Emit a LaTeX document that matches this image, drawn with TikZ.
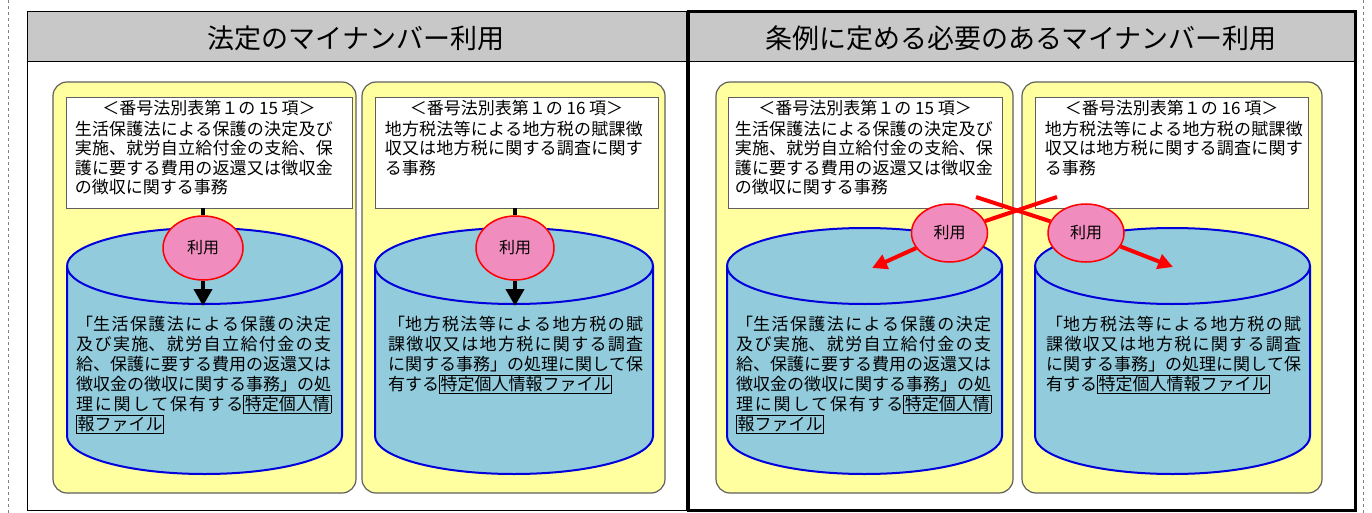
\documentclass[tikz,border=0pt]{standalone}
\usepackage{fontspec}
\setmainfont{Noto Sans CJK JP}
\usepackage{tikz}
\usetikzlibrary{shapes.geometric, arrows, arrows.meta, positioning, calc}
\XeTeXlinebreaklocale "ja"
\XeTeXlinebreakskip=0pt plus 3pt minus 0.5pt
\tolerance=9999
\definecolor{headgray}{RGB}{200,200,200}
\definecolor{padyellow}{RGB}{255,255,160}
\definecolor{padline}{RGB}{95,95,95}
\definecolor{cylblue}{RGB}{145,203,220}
\definecolor{cylline}{RGB}{0,0,220}
\definecolor{ovalpink}{RGB}{240,140,190}
\setlength{\fboxsep}{0.8pt}
\setlength{\fboxrule}{0.6pt}

\begin{document}
\begin{tikzpicture}[x=1pt, y=-1pt]
    \tikzstyle{pad} = [draw=padline, line width=1.2pt, fill=padyellow, rounded corners=14pt]
    \tikzstyle{infobox} = [rectangle, draw=padline, fill=white, line width=0.8pt, minimum height=111pt, inner sep=0pt]
    \tikzstyle{headtext} = [inner sep=0pt, font=\fontsize{17}{20}\selectfont]
    \tikzstyle{bodytext} = [anchor=north west, text width=258pt, align=justify, inner sep=0pt, font=\fontsize{17}{19.5}\selectfont]
    \tikzstyle{cyltext} = [anchor=north west, text width=255pt, align=justify, inner sep=0pt, font=\fontsize{17}{20}\selectfont]
    \tikzstyle{cyl} = [draw=cylline, line width=2pt, fill=cylblue]
    \tikzstyle{use} = [ellipse, draw=red, line width=1.5pt, fill=ovalpink, minimum width=76pt, minimum height=58pt, inner sep=0pt, font=\fontsize{16}{16}\selectfont]
    \tikzstyle{title} = [inner sep=0pt, font=\fontsize{27}{27}\selectfont]
    \tikzstyle{stem} = [line width=4pt]
    \tikzstyle{arrow} = [line width=4pt, -{Triangle[length=17pt, width=18pt]}]
    \tikzstyle{redarrow} = [red, line width=4pt, -{Triangle[length=15pt, width=15pt]}]
    \tikzstyle{cross} = [red, line width=4pt]

    \useasboundingbox (0,0) rectangle (1372,513);
    \fill[white] (0,0) rectangle (1372,513);
    \draw[gray, dashed] (8,0) -- (8,513);
    \draw[gray, dashed] (1363,0) -- (1363,513);

    % panels
    \fill[headgray] (27,12) rectangle (686,62);
    \draw[line width=1pt] (27,12) rectangle (686,510);
    \draw[line width=1pt] (27,62) -- (686,62);
    \fill[headgray] (688,12) rectangle (1355,62);
    \draw[line width=1pt] (688,62) -- (1355,62);
    \draw[line width=3pt] (688,12) rectangle (1355,510);

    \node[title] (legal) at (356,38) {法定のマイナンバー利用};
    \node[title] (local) at (1021,38) {条例に定める必要のあるマイナンバー利用};

    % yellow pads
    \draw[pad] (53,82) rectangle (356,493);
    \draw[pad] (362,82) rectangle (665,493);
    \draw[pad] (716,82) rectangle (1013,493);
    \draw[pad] (1022,82) rectangle (1322,493);

    % cylinders
    \foreach \cx/\rx in {204.5/137.5, 514/139, 864.5/137.5, 1172.5/137.5} {
        \filldraw[cyl] (\cx-\rx,266) -- (\cx-\rx,436)
            arc[start angle=180, end angle=0, x radius=\rx, y radius=38]
            -- (\cx+\rx,266)
            arc[start angle=0, end angle=-180, x radius=\rx, y radius=38] -- cycle;
        \draw[cyl, fill=none] (\cx-\rx,266) arc[start angle=180, end angle=0, x radius=\rx, y radius=38];
    }

    % table boxes
    \node[infobox, minimum width=286pt] (welfare) at (209,152.5) {};
    \node[infobox, minimum width=283pt] (tax) at (516.5,152.5) {};
    \node[infobox, minimum width=274pt] (welfare2) at (865,152.5) {};
    \node[infobox, minimum width=273pt] (tax2) at (1171.5,152.5) {};

    \node[headtext, below=3pt of welfare.north] (welfarehead) {＜番号法別表第１の 15 項＞};
    \node[headtext, below=3pt of tax.north] (taxhead) {＜番号法別表第１の 16 項＞};
    \node[headtext, below=3pt of welfare2.north] (welfarehead2) {＜番号法別表第１の 15 項＞};
    \node[headtext, below=3pt of tax2.north] (taxhead2) {＜番号法別表第１の 16 項＞};

    \node[bodytext] (welfarebody) at ($(welfare.north west)+(9,24)$) {生活保護法による保護の決定及び\linebreak 実施、就労自立給付金の支給、保\linebreak 護に要する費用の返還又は徴収金\linebreak の徴収に関する事務};
    \node[bodytext] (taxbody) at ($(tax.north west)+(10,24)$) {地方税法等による地方税の賦課徴\linebreak 収又は地方税に関する調査に関す\linebreak る事務};
    \node[bodytext] (welfarebody2) at ($(welfare2.north west)+(7,24)$) {生活保護法による保護の決定及び\linebreak 実施、就労自立給付金の支給、保\linebreak 護に要する費用の返還又は徴収金\linebreak の徴収に関する事務};
    \node[bodytext] (taxbody2) at ($(tax2.north west)+(10,24)$) {地方税法等による地方税の賦課徴\linebreak 収又は地方税に関する調査に関す\linebreak る事務};

    % file texts
    \node[cyltext] (welfarefile) at (76,316) {「生活保護法による保護の決定\linebreak 及び実施、就労自立給付金の支\linebreak 給、保護に要する費用の返還又は\linebreak 徴収金の徴収に関する事務」の処\linebreak 理に関して保有する\fbox{特定個人情}\linebreak \fbox{報ファイル}};
    \node[cyltext] (taxfile) at (388,316) {「地方税法等による地方税の賦\linebreak 課徴収又は地方税に関する調査\linebreak に関する事務」の処理に関して保\linebreak 有する\fbox{特定個人情報ファイル}};
    \node[cyltext] (welfarefile2) at (736,316) {「生活保護法による保護の決定\linebreak 及び実施、就労自立給付金の支\linebreak 給、保護に要する費用の返還又は\linebreak 徴収金の徴収に関する事務」の処\linebreak 理に関して保有する\fbox{特定個人情}\linebreak \fbox{報ファイル}};
    \node[cyltext] (taxfile2) at (1046,316) {「地方税法等による地方税の賦\linebreak 課徴収又は地方税に関する調査\linebreak に関する事務」の処理に関して保\linebreak 有する\fbox{特定個人情報ファイル}};

    % use ovals
    \node[use, minimum width=80pt, minimum height=64pt] (use1) at (203,248) {利用};
    \node[use, minimum width=78pt, minimum height=64pt] (use2) at (515,248) {利用};
    \node[use] (use3) at (949.5,233) {利用};
    \node[use] (use4) at (1086,233) {利用};

    \coordinate (file1) at (203,306);
    \coordinate (file2) at (515,306);
    \coordinate (file3) at (872,268);
    \coordinate (file4) at (1173,267);
    \coordinate (crossA) at (976,197);
    \coordinate (crossB) at (1057,197);

    \draw[stem] (use1.north |- welfare.south) -- (use1.north);
    \draw[stem] (use2.north |- tax.south) -- (use2.north);
    \draw[arrow] (use1.south) -- (file1);
    \draw[arrow] (use2.south) -- (file2);
    \draw[redarrow] (use3) -- (file3);
    \draw[redarrow] (use4) -- (file4);
    \draw[cross] (crossA) -- (use4);
    \draw[cross] (use3) -- (crossB);
\end{tikzpicture}
\end{document}
